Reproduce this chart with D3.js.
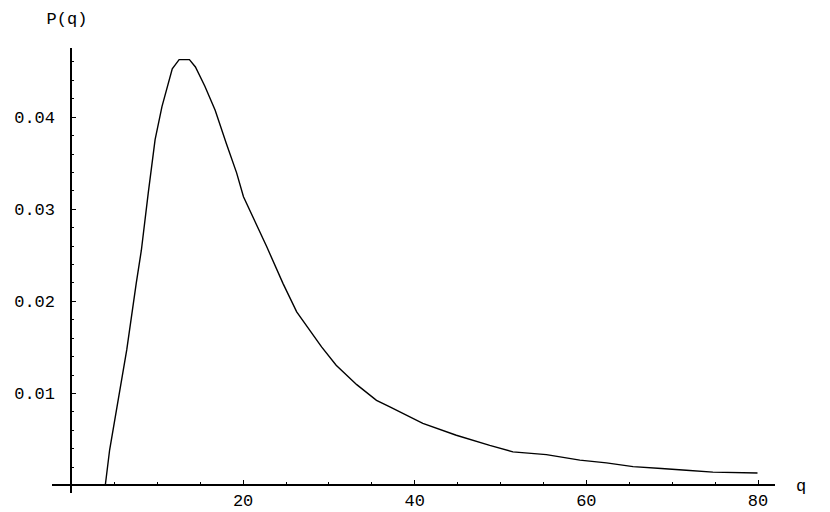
<!DOCTYPE html>
<meta charset="utf-8">
<title>P(q)</title>
<style>
body { margin: 0; background: #fff; }
svg text { font-family: "Liberation Mono", "DejaVu Sans Mono", monospace; font-size: 17px; fill: #000; }
.axis .domain { display: none; }
.axis line { stroke: #000; stroke-width: 1; shape-rendering: crispEdges; }
</style>

<script src="https://cdn.jsdelivr.net/npm/d3@7"></script>

<div id="chart"></div>

<script>

// values
var q = [4.0, 4.5, 6.5, 7.6, 8.2, 9.0, 9.8, 10.6, 11.8, 12.6, 13.8, 14.5, 15.6, 16.8, 18.1, 19.3,
         20.1, 22.8, 24.7, 26.3, 29.2, 30.9, 33.3, 35.6, 37.1, 41.0, 44.9, 48.8, 51.5, 55.4,
         59.3, 62.4, 65.5, 68.8, 71.7, 74.8, 80.0];
var P = [0, 0.0038, 0.0147, 0.0219, 0.0255, 0.0317, 0.0375, 0.0411, 0.0452, 0.0462, 0.0462, 0.0454,
         0.0433, 0.0407, 0.0371, 0.0339, 0.0313, 0.0259, 0.0219, 0.0188, 0.0150, 0.0130, 0.0109,
         0.0092, 0.0085, 0.0067, 0.0054, 0.0043, 0.0036, 0.0033, 0.0027, 0.0024, 0.0020, 0.0018,
         0.0016, 0.0014, 0.0013];

var xMajor = [20, 40, 60, 80];
var xMinor = [5, 10, 15, 25, 30, 35, 45, 50, 55, 65, 70, 75];
var yMajor = [0.01, 0.02, 0.03, 0.04];
var yMinor = [0.002, 0.004, 0.006, 0.008, 0.012, 0.014, 0.016, 0.018, 0.022, 0.024, 0.026, 0.028,
              0.032, 0.034, 0.036, 0.038, 0.042, 0.044, 0.046];

var width = 830, height = 512;

var svg = d3.select("#chart")
  .append("svg")
  .attr("width", width)
  .attr("height", height);

// x = 0 sits on the vertical axis, y = 0 on the horizontal one
var x = d3.scaleLinear().domain([0, 80]).range([71, 757.5]);
var y = d3.scaleLinear().domain([0, 0.04]).range([485, 116.7]);

// axis lines (drawn by hand so they run past the ticks like the original)
svg.append("line")
  .attr("x1", x(-2.2)).attr("x2", x(82.0))
  .attr("y1", y(0)).attr("y2", y(0))
  .attr("stroke", "#000").attr("stroke-width", 2)
  .attr("shape-rendering", "crispEdges");
svg.append("line")
  .attr("x1", x(0)).attr("x2", x(0))
  .attr("y1", y(-0.0009)).attr("y2", y(0.0475))
  .attr("stroke", "#000").attr("stroke-width", 2)
  .attr("shape-rendering", "crispEdges");

// x axis: ticks point up, labels under
svg.append("g")
  .attr("class", "axis")
  .attr("transform", "translate(0," + y(0) + ")")
  .call(d3.axisBottom(x).tickValues(xMajor).tickSizeInner(-5).tickSizeOuter(0).tickPadding(9)
    .tickFormat(d3.format("d")))
  .selectAll("text").attr("font-family", null).attr("font-size", null);

svg.append("g")
  .attr("class", "axis")
  .attr("transform", "translate(0," + y(0) + ")")
  .call(d3.axisBottom(x).tickValues(xMinor).tickSizeInner(-3).tickSizeOuter(0).tickFormat(""));

// y axis: ticks point right, labels on the left
svg.append("g")
  .attr("class", "axis")
  .attr("transform", "translate(" + x(0) + ",0)")
  .call(d3.axisLeft(y).tickValues(yMajor).tickSizeInner(-5).tickSizeOuter(0).tickPadding(16)
    .tickFormat(d3.format(".2f")))
  .selectAll("text").attr("font-family", null).attr("font-size", null);

svg.append("g")
  .attr("class", "axis")
  .attr("transform", "translate(" + x(0) + ",0)")
  .call(d3.axisLeft(y).tickValues(yMinor).tickSizeInner(-3).tickSizeOuter(0).tickFormat(""));

// the curve
var line = d3.line()
  .x(function(d, i) { return x(q[i]); })
  .y(function(d) { return y(d); });

svg.append("path")
  .datum(P)
  .attr("d", line)
  .attr("fill", "none")
  .attr("stroke", "#000")
  .attr("stroke-width", 1.4);

// axis titles
svg.append("text")
  .attr("x", 67).attr("y", 24)
  .attr("text-anchor", "middle")
  .text("P(q)");

svg.append("text")
  .attr("x", 796).attr("y", 491)
  .text("q");

</script>
